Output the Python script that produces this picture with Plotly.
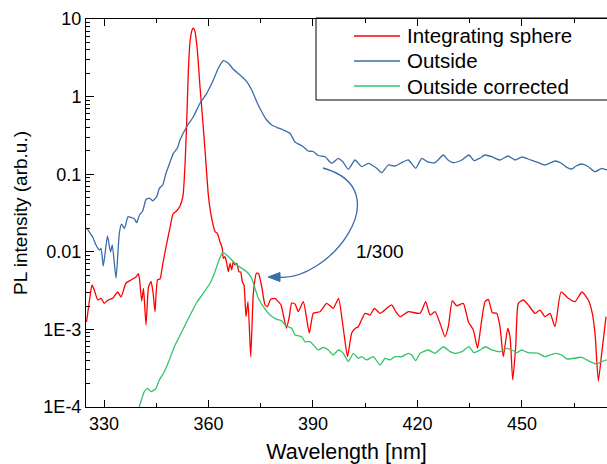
import plotly.graph_objects as go

# ---------------- data ----------------
wl_sphere = [324.98, 325.84, 326.55, 327.21, 328.19, 329.14, 330.09, 331.15, 332.50, 333.93,
             334.88, 336.32, 337.75, 339.19, 339.85, 340.19, 340.82, 341.34, 342.06, 342.78,
             343.49, 344.07, 344.64, 345.36, 346.08, 346.94, 347.80, 348.81, 349.81, 350.82,
             351.82, 352.68, 353.26, 353.74, 354.20, 354.69, 355.35, 355.75, 356.13, 356.79,
             357.56, 358.34, 359.0, 359.95, 360.58, 361.01, 361.87, 362.53, 363.30, 363.96,
             364.25, 364.74, 365.23, 365.69, 366.18, 366.66, 367.12, 367.61, 368.10, 368.76,
             369.25, 369.71, 370.19, 370.77, 371.34, 372.12, 372.87, 373.78, 374.36, 375.28,
             376.23, 376.89, 377.86, 379.10, 380.04, 380.82, 381.48, 382.40, 383.20, 383.89,
             384.84, 385.78, 387.22, 388.94, 390.09, 392.02, 393.94, 395.83, 397.33, 398.76,
             399.91, 401.12, 402.21, 403.01, 404.94, 406.37, 407.66, 409.24, 411.17, 412.60,
             413.84, 414.98, 417.37, 420.73, 422.36, 423.60, 425.03, 426.47, 427.90, 428.85,
             430.0, 431.26, 433.16, 434.59, 436.03, 437.24, 438.24, 439.39, 440.34, 441.49,
             442.75, 443.69, 444.64, 445.90, 446.57, 447.34, 448.20, 448.95, 450.38, 451.82,
             453.74, 455.18, 456.61, 458.05, 459.49, 461.21, 463.30, 465.22, 467.23, 469.04,
             470.19, 470.97, 471.92, 472.89, 474.13]
pl_sphere = [0.001245, 0.002393, 0.003733, 0.003221, 0.002393, 0.002502, 0.002168, 0.002393, 0.002518, 0.003034,
             0.002618, 0.003963, 0.004335, 0.004735, 0.005248, 0.004459, 0.002323, 0.003367, 0.00114, 0.003516,
             0.00414, 0.003034, 0.00169, 0.004335, 0.004459, 0.007278, 0.01153, 0.0191, 0.03069, 0.03357,
             0.03891, 0.0524, 0.1314, 0.471, 2.075, 5.05, 7.37, 7.59, 6.86, 3.986,
             1.341, 0.4994, 0.2051, 0.054, 0.0326, 0.0257, 0.01815, 0.0173, 0.01349, 0.0111,
             0.00824, 0.00865, 0.00711, 0.005546, 0.00711, 0.005829, 0.007457, 0.00676, 0.00711, 0.005546,
             0.0055, 0.004118, 0.003733, 0.001459, 0.002276, 0.000445, 0.002917, 0.005283, 0.00524, 0.003548,
             0.002063, 0.00196, 0.002443, 0.002502, 0.002276, 0.002063, 0.001533, 0.001033, 0.001459, 0.002188,
             0.002124, 0.00169, 0.002276, 0.0009, 0.001612, 0.00169, 0.002168, 0.001871, 0.002502, 0.000982,
             0.000445, 0.0009, 0.001033, 0.001083, 0.001612, 0.001533, 0.00186, 0.001612, 0.001871, 0.002063,
             0.001675, 0.001459, 0.00169, 0.001612, 0.002276, 0.001533, 0.00169, 0.0012, 0.000805, 0.001083,
             0.002323, 0.002018, 0.002168, 0.001259, 0.000982, 0.000575, 0.00114, 0.002276, 0.002443, 0.00164,
             0.001612, 0.001083, 0.000445, 0.001033, 0.000805, 0.000223, 0.000598, 0.002168, 0.002393, 0.002063,
             0.001612, 0.001776, 0.001459, 0.001612, 0.001083, 0.003034, 0.002518, 0.002276, 0.003034, 0.002393,
             0.001612, 0.000888, 0.000216, 0.000492, 0.001459]

wl_outside = [324.98, 326.76, 327.70, 328.65, 329.14, 329.80, 331.0, 331.87, 332.38, 333.45,
              334.39, 335.02, 335.89, 336.89, 337.75, 338.76, 339.39, 340.19, 341.11, 342.06,
              343.01, 343.98, 345.13, 345.88, 346.85, 347.80, 348.75, 349.90, 351.05, 351.82,
              353.74, 355.64, 357.56, 359.49, 361.38, 362.82, 364.25, 365.69, 367.12, 369.05,
              370.97, 372.41, 373.84, 375.28, 376.71, 378.15, 379.58, 381.48, 383.40, 384.84,
              387.22, 388.57, 390.09, 391.44, 393.45, 395.37, 397.27, 398.62, 400.14, 402.06,
              403.99, 405.88, 408.30, 409.73, 411.62, 413.55, 415.27, 417.37, 419.49, 421.22,
              423.02, 425.03, 427.42, 428.77, 430.29, 432.70, 434.79, 436.23, 437.95, 439.39,
              441.31, 443.69, 446.0, 448.0, 450.0, 451.73, 454.3, 456.61, 459.49, 461.21,
              462.85, 464.28, 465.52, 467.15, 468.96, 470.97, 472.89, 474.42]
pl_outside = [0.0203, 0.01538, 0.01224, 0.01055, 0.0111, 0.00656, 0.016, 0.00993, 0.01224, 0.00456,
              0.0173, 0.0228, 0.0201, 0.0283, 0.0277, 0.0265, 0.0237, 0.0298, 0.0336, 0.0472,
              0.0493, 0.0455, 0.0513, 0.0658, 0.0726, 0.1028, 0.1352, 0.1858, 0.2158, 0.2761,
              0.4093, 0.5508, 0.82, 1.103, 1.637, 2.316, 2.901, 2.686, 2.249, 1.897,
              1.556, 1.216, 0.86, 0.639, 0.4994, 0.4305, 0.4022, 0.3715, 0.3365, 0.26,
              0.2262, 0.199, 0.196, 0.174, 0.168, 0.1381, 0.1603, 0.1435, 0.1156, 0.1524,
              0.1249, 0.1381, 0.1191, 0.1045, 0.1314, 0.1276, 0.1394, 0.1524, 0.1191, 0.1603,
              0.1435, 0.1406, 0.1768, 0.1524, 0.1406, 0.1524, 0.1768, 0.1493, 0.1618, 0.1768,
              0.168, 0.1524, 0.1716, 0.1524, 0.1667, 0.157, 0.1435, 0.1314, 0.148, 0.1394,
              0.1227, 0.1167, 0.1276, 0.1353, 0.1257, 0.1077, 0.1191, 0.1132]

wl_corrected = [339.8, 341.57, 342.55, 343.49, 344.93, 345.88, 347.31, 348.75, 350.18, 351.62,
                353.54, 355.47, 356.70, 358.51, 360.43, 361.87, 362.82, 364.08, 365.23, 366.66,
                368.10, 369.53, 370.97, 372.41, 373.35, 374.30, 375.74, 377.66, 379.58, 381.02,
                381.97, 382.91, 383.89, 384.84, 386.76, 387.71, 389.14, 390.58, 391.53, 392.96,
                394.40, 395.83, 397.27, 398.70, 400.14, 401.58, 403.01, 403.99, 405.42, 407.32,
                409.24, 410.68, 412.11, 413.55, 415.47, 417.37, 418.34, 419.49, 420.73, 423.11,
                425.03, 427.42, 429.34, 430.78, 432.70, 434.79, 436.23, 437.95, 439.59, 441.31,
                443.69, 445.62, 447.51, 448.49, 449.92, 451.82, 454.69, 456.61, 459.49, 461.41,
                462.85, 464.74, 467.15, 469.53, 471.46, 472.89, 474.33]
pl_corrected = [0.00009, 0.0001574, 0.0001741, 0.0001574, 0.0001741, 0.000223, 0.000285, 0.000404, 0.000598, 0.000805,
                0.0012, 0.001776, 0.002254, 0.002917, 0.003926, 0.005539, 0.007457, 0.009736, 0.0091, 0.00784,
                0.00676, 0.00613, 0.005539, 0.00456, 0.003388, 0.002518, 0.00196, 0.001533, 0.001349, 0.001294,
                0.00114, 0.001083, 0.001033, 0.000847, 0.000805, 0.000694, 0.000694, 0.000598, 0.000543, 0.000588,
                0.000543, 0.000468, 0.000543, 0.000492, 0.000384, 0.000492, 0.000424, 0.000445, 0.000404, 0.000445,
                0.000347, 0.000424, 0.000404, 0.000445, 0.000445, 0.000492, 0.000468, 0.000395, 0.000492, 0.000543,
                0.000492, 0.000598, 0.000516, 0.000492, 0.000516, 0.000598, 0.000501, 0.000543, 0.000598, 0.000543,
                0.000516, 0.00057, 0.000531, 0.000501, 0.000543, 0.000501, 0.000492, 0.000445, 0.000492, 0.000468,
                0.000416, 0.000424, 0.000437, 0.000384, 0.000358, 0.000384, 0.000404]

x_ticks = [330, 360, 390, 420, 450]
y_tickvals = [1e-4, 1e-3, 1e-2, 1e-1, 1, 10]
y_ticktext = ["1E-4", "1E-3", "0.01", "0.1", "1", "10"]
series_names = ["Integrating sphere", "Outside", "Outside corrected"]
series_colors = ["#ff0000", "#3a6ca8", "#33c46a"]

FONT = "Arial, 'Liberation Sans', sans-serif"

# ---------------- figure ----------------
fig = go.Figure()
for name, xs, ys, col in zip(series_names,
                             [wl_sphere, wl_outside, wl_corrected],
                             [pl_sphere, pl_outside, pl_corrected],
                             series_colors):
    fig.add_trace(go.Scatter(x=xs, y=ys, mode="lines", name=name, showlegend=False,
                             line=dict(color=col, width=1.3, shape="spline", smoothing=0.5)))

W, H = 607, 464
L, R, T, B = 86, 0, 19, 57
pw, ph = W - L - R, H - T - B


def px2paper(px, py):
    return (px - L) / pw, (H - B - py) / ph


minor_y = [m * 10 ** e for e in range(-4, 1) for m in range(2, 10)]

fig.update_layout(
    width=W, height=H,
    margin=dict(l=L, r=R, t=T, b=B),
    paper_bgcolor="white", plot_bgcolor="white",
    font=dict(family=FONT, color="black", size=18),
    showlegend=False,
    xaxis=dict(range=[324.83, 474.41], tickmode="array", tickvals=x_ticks,
               ticks="inside", ticklen=7, tickwidth=1, tickcolor="black",
               showline=True, linecolor="black", linewidth=1, mirror="ticks",
               showgrid=False, zeroline=False,
               minor=dict(ticks="inside", ticklen=4, dtick=15, tick0=330,
                          tickcolor="black", showgrid=False),
               tickfont=dict(size=18),
               title=dict(text="Wavelength [nm]", font=dict(size=21.5), standoff=12)),
    yaxis=dict(type="log", range=[-4, 1], tickmode="array",
               tickvals=y_tickvals, ticktext=y_ticktext,
               ticks="inside", ticklen=8, tickwidth=1, tickcolor="black",
               showline=True, linecolor="black", linewidth=1,
               showgrid=False, zeroline=False,
               minor=dict(ticks="inside", ticklen=4, tickmode="array", tickvals=minor_y,
                          tickcolor="black", showgrid=False),
               tickfont=dict(size=18),
               title=dict(text="PL intensity (arb.u.)", font=dict(size=19), standoff=10)),
)

# legend: frame (extends beyond the right edge, as in the reference), samples and labels
lx0, ly0 = px2paper(316, 100)
lx1, ly1 = px2paper(620, 18)
fig.add_shape(type="rect", xref="paper", yref="paper", x0=lx0, y0=ly0, x1=lx1, y1=ly1,
              line=dict(color="black", width=1), fillcolor="white", layer="below")
for i, (name, col) in enumerate(zip(series_names, series_colors)):
    row_y = 36 + 25 * i
    a0 = px2paper(354, row_y)
    a1 = px2paper(400, row_y)
    fig.add_shape(type="line", xref="paper", yref="paper", x0=a0[0], y0=a0[1], x1=a1[0], y1=a1[1],
                  line=dict(color=col, width=1.3))
    tx = px2paper(405, row_y)
    fig.add_annotation(x=tx[0], y=tx[1], xref="paper", yref="paper", text=name, showarrow=False,
                       xanchor="left", yanchor="middle",
                       font=dict(family=FONT, size=20.5, color="black"))

# curved arrow with label "1/300"
p0 = px2paper(323, 168)
p1 = px2paper(402, 190)
p2 = px2paper(327, 284)
p3 = px2paper(277, 277)
path = "M {} {} C {} {}, {} {}, {} {}".format(p0[0], p0[1], p1[0], p1[1], p2[0], p2[1], p3[0], p3[1])
fig.add_shape(type="path", xref="paper", yref="paper", path=path,
              line=dict(color="#3a6ca8", width=1.3))
t0 = px2paper(268, 277)
t1 = px2paper(280, 272.5)
t2 = px2paper(280, 281.5)
fig.add_shape(type="path", xref="paper", yref="paper",
              path="M {} {} L {} {} L {} {} Z".format(t0[0], t0[1], t1[0], t1[1], t2[0], t2[1]),
              line=dict(color="#3a6ca8", width=1), fillcolor="#3a6ca8")
ax, ay = px2paper(380, 251)
fig.add_annotation(x=ax, y=ay, xref="paper", yref="paper", text="1/300", showarrow=False,
                   font=dict(family=FONT, size=19, color="black"))

fig.write_html("out.html")
